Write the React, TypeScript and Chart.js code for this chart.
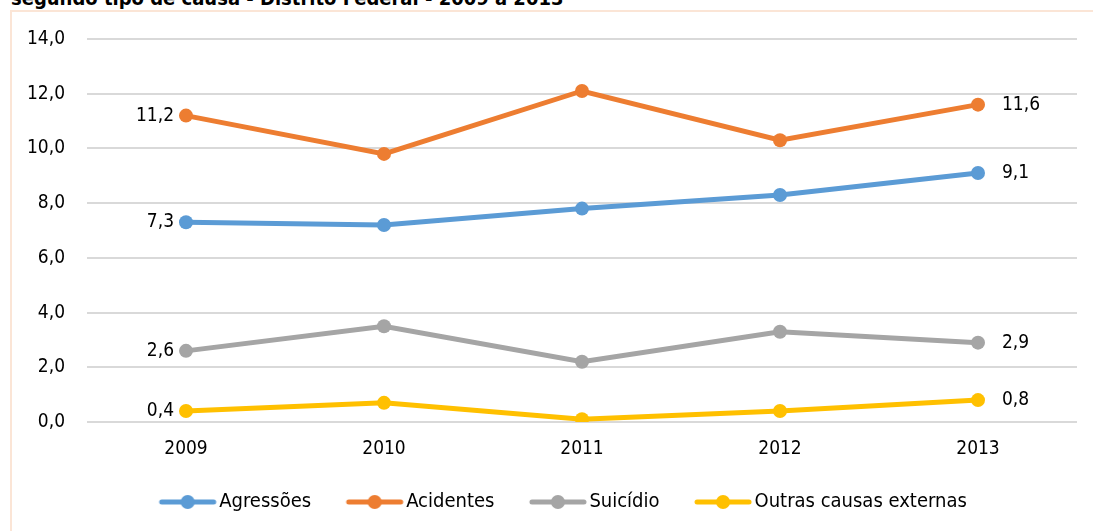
import React, { useEffect, useRef } from "react";
import { Chart, registerables } from "chart.js";

Chart.register(...registerables);

const TITLE = "segundo tipo de causa - Distrito Federal - 2009 a 2013";
const years = ["2009", "2010", "2011", "2012", "2013"];
const agressoes = [7.3, 7.2, 7.8, 8.3, 9.1];
const acidentes = [11.2, 9.8, 12.1, 10.3, 11.6];
const suicidio = [2.6, 3.5, 2.2, 3.3, 2.9];
const outras = [0.4, 0.7, 0.1, 0.4, 0.8];
const seriesNames = ["Agressões", "Acidentes", "Suicídio", "Outras causas externas"];
const seriesColors = ["#5B9BD5", "#ED7D31", "#A5A5A5", "#FFC000"];

const FONT = "'DejaVu Sans Condensed', 'Liberation Sans Narrow', 'Arial Narrow', 'Liberation Sans', sans-serif";
const FS = 19;
const LFS = 20;

function makeMarker(color: string): HTMLCanvasElement {
  const c = document.createElement("canvas");
  c.width = 100;
  c.height = 16;
  const ctx = c.getContext("2d")!;
  ctx.strokeStyle = color;
  ctx.lineWidth = 5;
  ctx.lineCap = "round";
  ctx.beginPath();
  ctx.moveTo(40, 8);
  ctx.lineTo(92, 8);
  ctx.stroke();
  ctx.fillStyle = color;
  ctx.beginPath();
  ctx.arc(66, 8, 7, 0, Math.PI * 2);
  ctx.fill();
  return c;
}

const fmt = (v: number) => v.toFixed(1).replace(".", ",");

const endLabels = {
  id: "endLabels",
  afterDatasetsDraw(chart: any) {
    const ctx = chart.ctx;
    ctx.save();
    ctx.font = `${FS}px ${FONT}`;
    ctx.fillStyle = "#000";
    ctx.textBaseline = "middle";
    chart.data.datasets.forEach((ds: any, i: number) => {
      const meta = chart.getDatasetMeta(i);
      const first = meta.data[0];
      const last = meta.data[meta.data.length - 1];
      ctx.textAlign = "right";
      ctx.fillText(fmt(ds.data[0]), first.x - 12, first.y);
      ctx.textAlign = "left";
      ctx.fillText(fmt(ds.data[ds.data.length - 1]), last.x + 24, last.y);
    });
    ctx.restore();
  },
};

const legendShift = {
  id: "legendShift",
  afterLayout(chart: any) {
    const l = chart.legend;
    if (l) {
      l.left += 12;
      l.right += 12;
    }
  },
};

export default function App() {
  const ref = useRef<HTMLCanvasElement>(null);
  useEffect(() => {
    const seriesData = [agressoes, acidentes, suicidio, outras];
    const markers = seriesColors.map(makeMarker);
    const chart = new Chart(ref.current!, {
      type: "line",
      data: {
        labels: years,
        datasets: seriesData.map((d, i) => ({
          label: seriesNames[i],
          data: d,
          borderColor: seriesColors[i],
          backgroundColor: seriesColors[i],
          borderWidth: 5,
          pointRadius: 7,
          pointHoverRadius: 7,
          pointBorderWidth: 0,
          tension: 0,
          pointStyle: "circle",
        })),
      },
      options: {
        animation: false,
        responsive: false,
        layout: { padding: { left: 0, top: 39, right: 16, bottom: 9 } },
        scales: {
          x: {
            offset: true,
            grid: { display: false, drawTicks: false },
            border: { display: false },
            ticks: { color: "#000", font: { family: FONT, size: FS }, padding: 16 },
            afterFit: (s: any) => {
              s.height = 60;
            },
          },
          y: {
            min: 0,
            max: 14,
            ticks: {
              stepSize: 2,
              color: "#000",
              font: { family: FONT, size: FS },
              padding: 22,
              callback: (v: any) => fmt(Number(v)),
            },
            grid: { color: "#D9D9D9", lineWidth: 2, drawTicks: false },
            border: { display: false },
            afterFit: (s: any) => {
              s.width = 87;
            },
          },
        },
        plugins: {
          legend: {
            position: "bottom",
            labels: {
              usePointStyle: true,
              pointStyleWidth: 75,
              padding: 10,
              color: "#000",
              font: { family: FONT, size: LFS },
              generateLabels: (c: any) =>
                c.data.datasets.map((ds: any, i: number) => ({
                  text: ds.label,
                  fillStyle: seriesColors[i],
                  strokeStyle: seriesColors[i],
                  lineWidth: 0,
                  pointStyle: markers[i],
                  hidden: false,
                  datasetIndex: i,
                  fontColor: "#000",
                })),
            },
          },
          tooltip: { enabled: false },
        },
      },
      plugins: [endLabels, legendShift],
    });
    return () => chart.destroy();
  }, []);

  return (
    <div style={{ position: "fixed", left: 0, top: 0, width: 1093, height: 531, overflow: "hidden", background: "#fff" }}>
      <div
        style={{
          position: "absolute",
          left: 10,
          top: 10,
          width: 1100,
          height: 540,
          border: "2px solid #FBE5D6",
          boxSizing: "border-box",
        }}
      />
      <div
        style={{
          position: "absolute",
          left: 11,
          top: -12,
          font: `bold 20px ${FONT}`,
          lineHeight: "20px",
          color: "#000",
          whiteSpace: "nowrap",
        }}
      >
        {TITLE}
      </div>
      <canvas ref={ref} width={1093} height={531} style={{ position: "absolute", left: 0, top: 0 }} />
    </div>
  );
}
